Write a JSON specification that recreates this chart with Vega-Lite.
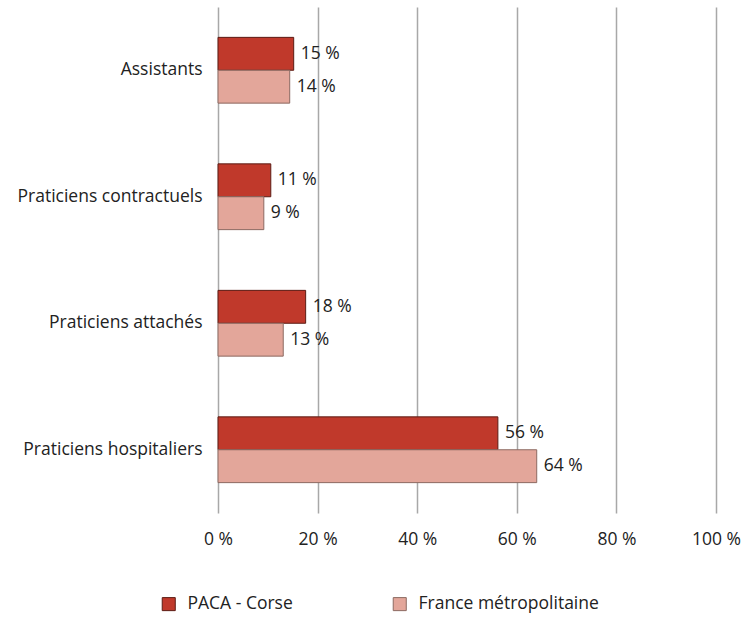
{
  "$schema": "https://vega.github.io/schema/vega-lite/v6.json",
  "width": 498,
  "height": 506,
  "autosize": "none",
  "padding": {"left": 218, "top": 7, "right": 28, "bottom": 106},
  "background": "white",
  "config": {
    "font": "Open Sans",
    "view": {"stroke": null},
    "axis": {"labelFont": "Open Sans", "labelFontSize": 17.5, "labelColor": "#222222", "labelLimit": 400},
    "legend": {"labelFont": "Open Sans", "labelFontSize": 17.5, "labelColor": "#222222", "labelLimit": 400}
  },
  "data": {
    "values": [
      {"cat": "Assistants", "zone": "PACA - Corse", "value": 15.2, "label": "15 %"},
      {"cat": "Assistants", "zone": "France métropolitaine", "value": 14.4, "label": "14 %"},
      {"cat": "Praticiens contractuels", "zone": "PACA - Corse", "value": 10.6, "label": "11 %"},
      {"cat": "Praticiens contractuels", "zone": "France métropolitaine", "value": 9.2, "label": "9 %"},
      {"cat": "Praticiens attachés", "zone": "PACA - Corse", "value": 17.6, "label": "18 %"},
      {"cat": "Praticiens attachés", "zone": "France métropolitaine", "value": 13.1, "label": "13 %"},
      {"cat": "Praticiens hospitaliers", "zone": "PACA - Corse", "value": 56.2, "label": "56 %"},
      {"cat": "Praticiens hospitaliers", "zone": "France métropolitaine", "value": 64.0, "label": "64 %"}
    ]
  },
  "encoding": {
    "y": {
      "field": "cat",
      "type": "nominal",
      "sort": ["Assistants", "Praticiens contractuels", "Praticiens attachés", "Praticiens hospitaliers"],
      "scale": {"paddingInner": 0.48, "paddingOuter": 0.24},
      "axis": {"title": null, "ticks": false, "domain": false, "labelPadding": 16}
    },
    "yOffset": {
      "field": "zone",
      "type": "nominal",
      "sort": ["PACA - Corse", "France métropolitaine"]
    },
    "x": {
      "field": "value",
      "type": "quantitative",
      "scale": {"domain": [0, 100], "nice": false},
      "axis": {
        "title": null,
        "values": [0, 20, 40, 60, 80, 100],
        "labelExpr": "datum.value + ' %'",
        "labelFlush": false,
        "domain": false,
        "ticks": false,
        "labelPadding": 17,
        "grid": true,
        "gridColor": "#a8a8a8",
        "gridWidth": 1.5
      }
    }
  },
  "layer": [
    {
      "mark": {"type": "bar", "strokeWidth": 1},
      "encoding": {
        "color": {
          "field": "zone",
          "type": "nominal",
          "sort": ["PACA - Corse", "France métropolitaine"],
          "scale": {"domain": ["PACA - Corse", "France métropolitaine"], "range": ["#c0392b", "#e3a69a"]},
          "legend": {
            "title": null,
            "orient": "none",
            "direction": "horizontal",
            "legendX": -58,
            "legendY": 588,
            "symbolType": "square",
            "symbolSize": 170,
            "symbolStrokeWidth": 1,
            "symbolStrokeColor": "#6b2a20",
            "labelOffset": 10,
            "columnPadding": 98
          }
        },
        "stroke": {
          "field": "zone",
          "type": "nominal",
          "scale": {"domain": ["PACA - Corse", "France métropolitaine"], "range": ["#5c1c14", "#8c6a62"]},
          "legend": null
        }
      }
    },
    {
      "mark": {"type": "text", "align": "left", "dx": 7, "fontSize": 17.5, "color": "#222222"},
      "encoding": {"text": {"field": "label"}}
    }
  ]
}
